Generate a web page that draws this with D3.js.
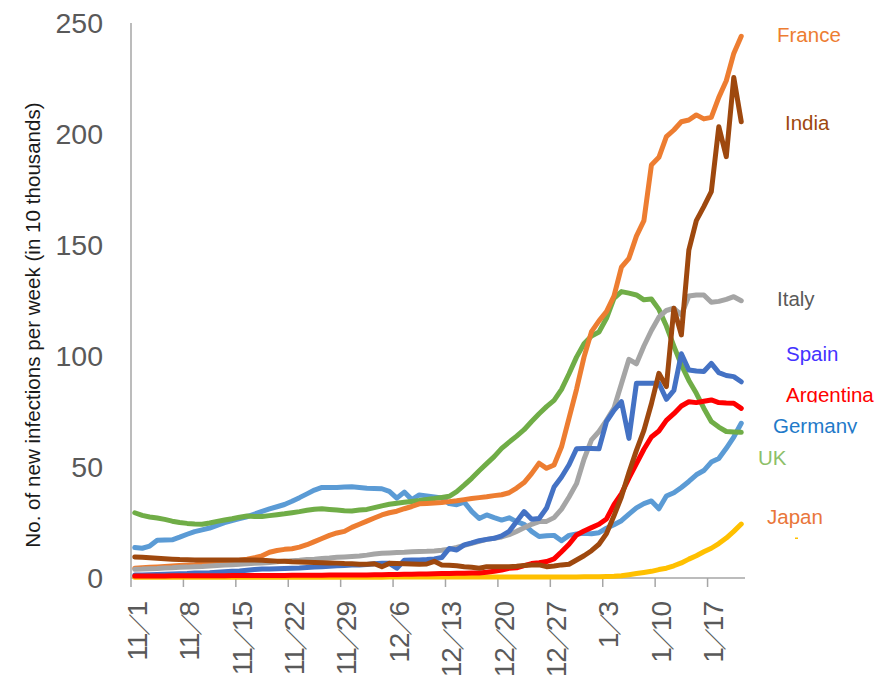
<!DOCTYPE html>
<html>
<head>
<meta charset="utf-8">
<script src="https://cdn.jsdelivr.net/npm/d3@7/dist/d3.min.js"></script>
<style>
  html, body { margin: 0; padding: 0; background: #fff; }
  svg { display: block; }
</style>
</head>
<body>
<svg id="chart" width="886" height="676"></svg>
<script>
// Daily categories: 11/1 through 1/21
const startDate = new Date(2020, 10, 1);
const endDate = new Date(2021, 0, 22);
const categories = d3.timeDay.range(startDate, endDate).map(d => (d.getMonth() + 1) + "/" + d.getDate());

const xTickLabels = ["11/1", "11/8", "11/15", "11/22", "11/29", "12/6", "12/13", "12/20", "12/27", "1/3", "1/10", "1/17"];
const yTicks = [0, 50, 100, 150, 200, 250];

// New infections per week, in units of 10,000
const france = [4.4,4.6,4.8,5.0,5.2,5.4,5.6,5.8,6.0,6.3,6.6,6.9,7.2,7.6,8.0,8.5,9.1,10.0,11.6,12.4,12.9,13.2,13.9,15.0,16.4,17.8,19.2,20.3,21.0,22.8,24.2,25.6,27.0,28.4,29.4,30.1,31.2,32.2,33.4,33.6,33.8,34.0,34.4,34.8,35.3,35.8,36.2,36.6,37.1,37.5,38.4,40.5,43.0,47.0,51.7,49.4,50.9,59.1,72,85,99.5,111,115.8,120,127,140,144,154,161,186,189.5,198.8,201.8,205.5,206.3,208.6,206.8,207.5,216.5,224,236.3,244];
const india = [9.5,9.3,9.1,8.9,8.7,8.5,8.3,8.2,8.1,8.1,8.1,8.1,8.1,8.1,8.1,8.1,8.1,8.0,7.8,7.6,7.5,7.3,7.2,7.1,7.0,6.9,6.8,6.7,6.5,6.4,6.2,6.2,6.4,5.1,6.6,6.5,6.4,6.3,6.2,6.3,7.5,5.9,5.7,5.5,5.1,4.8,4.4,5.1,5.1,5.1,5.1,5.3,5.6,5.9,5.9,5.1,5.4,5.9,6.2,8.1,10.0,12.3,15.2,20.0,28.0,36.6,47.5,57.5,66.5,78.5,92.2,86.2,121.5,109.5,147.7,161,167.3,174,203.3,189.8,225.5,205.5];
const italy = [3.9,4.0,4.2,4.3,4.5,4.6,4.8,4.9,5.1,5.2,5.4,5.6,5.8,6.0,6.2,6.4,6.6,6.8,7.0,7.3,7.6,7.8,8.0,8.3,8.5,8.8,9.0,9.3,9.5,9.7,9.9,10.3,10.8,11.1,11.3,11.5,11.6,11.8,11.9,12.0,12.2,12.5,13.0,13.8,14.7,15.6,16.5,17.4,17.9,18.5,19.5,21.0,22.6,24.2,25.4,25.5,27.2,31.0,36.5,42.5,53.5,62.2,66.0,71.0,76.5,87.5,98.5,96.5,104.5,111.5,117.5,120.5,121.5,118.5,127.0,127.5,127.5,124.2,124.6,125.5,126.7,124.9];
const spain = [1.3,1.4,1.5,1.6,1.7,1.8,1.9,2.0,2.2,2.3,2.4,2.6,2.8,3.0,3.2,3.5,3.8,4.0,4.1,4.2,4.3,4.4,4.5,4.7,4.9,5.1,5.3,5.5,5.6,5.8,5.9,6.1,6.4,6.6,6.6,4.4,8.0,8.1,8.1,8.3,8.6,9.2,13.3,12.6,14.9,15.8,16.8,17.4,17.9,19.0,21.0,25.5,29.9,26.5,26.8,31.5,41.0,45.5,51.0,58.2,58.3,58.3,58.2,70.5,75.5,79.4,62.9,87.7,87.7,87.7,87.7,80.5,84.5,101,93.7,93.2,93.0,96.7,92.5,91.2,90.7,88.4];
const argentina = [0.9,0.9,0.9,0.9,0.9,1.0,1.0,1.0,1.0,1.0,1.0,1.0,1.0,1.1,1.1,1.1,1.1,1.1,1.1,1.1,1.1,1.2,1.2,1.2,1.2,1.2,1.3,1.3,1.3,1.3,1.4,1.4,1.5,1.5,1.6,1.6,1.7,1.7,1.8,1.8,1.9,2.0,2.0,2.1,2.1,2.2,2.3,2.6,3.0,3.6,4.4,4.6,5.6,6.5,6.9,7.4,8.6,11.8,15.2,19.4,21.2,22.7,24.2,26.6,33.0,38.0,45.0,51.5,58.0,63.5,66.2,71.0,74.0,77.5,79.4,79.0,79.6,80.2,79.0,78.8,78.7,76.4];
const germany = [13.7,13.4,14.4,17.0,17.1,17.2,18.4,19.7,20.9,21.7,22.5,23.7,24.9,25.9,26.8,27.6,28.8,30.0,31.1,32.1,33.1,34.6,36.2,37.9,39.6,40.8,40.8,40.8,41.0,41.1,40.8,40.4,40.3,40.2,39.0,36.0,38.7,35.3,37.4,37.0,36.5,36.0,33.5,33.0,34.2,30.0,26.8,28.4,27.2,26.1,27.1,25.4,24.2,21.0,18.7,19.0,19.2,16.8,19.2,19.8,20.1,19.9,20.4,22.4,24.0,25.8,28.8,31.6,33.5,34.7,31.2,36.9,38.4,40.8,43.5,46.5,48.4,52.2,53.8,58.4,63.5,69.7];
const uk = [29.4,28.2,27.5,27.0,26.4,25.6,25.0,24.6,24.3,24.2,24.8,25.5,26.1,26.7,27.4,27.9,27.7,27.7,28.1,28.5,28.9,29.4,29.9,30.5,31.0,31.2,30.9,30.6,30.3,30.2,30.6,30.9,31.7,32.5,33.2,33.7,34.1,34.5,34.9,35.4,35.8,36.3,36.8,38.9,41.8,44.9,48.3,51.5,54.7,58.4,61.2,63.9,66.8,70.5,74.0,77.2,80.0,85.0,92.0,99.5,105.5,109.0,110.8,117.0,126.0,129.0,128.3,127.5,125.3,125.7,121.0,113.5,104.5,96.0,89.0,83.2,76.5,70.5,68.0,66.0,65.8,65.6];
const japan = [0.3,0.3,0.3,0.3,0.3,0.3,0.3,0.3,0.3,0.3,0.3,0.3,0.3,0.3,0.3,0.3,0.3,0.3,0.3,0.3,0.3,0.3,0.3,0.3,0.3,0.3,0.3,0.3,0.3,0.3,0.3,0.3,0.3,0.3,0.4,0.4,0.4,0.4,0.4,0.4,0.4,0.5,0.5,0.5,0.5,0.5,0.5,0.5,0.5,0.5,0.5,0.5,0.5,0.5,0.5,0.5,0.5,0.5,0.5,0.5,0.6,0.6,0.6,0.7,0.8,1.0,1.5,2.0,2.5,3.0,3.8,4.4,5.5,6.8,8.5,10.0,11.8,13.4,15.5,18.0,21.0,24.3];

const seriesNames = ["Japan", "Germany", "UK", "France", "Italy", "Spain", "Argentina", "India"];
const seriesValues = [japan, germany, uk, france, italy, spain, argentina, india];
const lineColors = {
  France: "#ED7D31", India: "#9E480E", Italy: "#A5A5A5", Spain: "#4472C4",
  Argentina: "#FF0000", Germany: "#5B9BD5", UK: "#70AD47", Japan: "#FFC000"
};

// End-of-line labels
const labelNames = ["France", "India", "Italy", "Spain", "Argentina", "Germany", "UK", "Japan"];
const labelColors = ["#ED7D31", "#9E480E", "#595959", "#4433FF", "#FF0000", "#1F7AC9", "#8DBF69", "#E9763A"];

const svg = d3.select("#chart");
const x = d3.scalePoint().domain(categories).range([131, 745]).padding(0.5);
const step = x.step();
const y = d3.scaleLinear().domain([0, 250]).range([578, 23]);

// Axes
svg.append("line")
  .attr("x1", 131).attr("x2", 131).attr("y1", y(250)).attr("y2", y(0))
  .attr("stroke", "#A6A6A6").attr("stroke-width", 1.5);
svg.append("line")
  .attr("x1", 131).attr("x2", 745).attr("y1", y(0)).attr("y2", y(0))
  .attr("stroke", "#A6A6A6").attr("stroke-width", 1.5);

const tickX = lab => x(lab) - step / 2;
svg.append("g").selectAll("line").data(xTickLabels).join("line")
  .attr("x1", tickX).attr("x2", tickX)
  .attr("y1", y(0)).attr("y2", y(0) + 9)
  .attr("stroke", "#A6A6A6").attr("stroke-width", 1.5);

// Rotated date labels: month, a wide slash, day
const xLabels = svg.append("g").selectAll("text").data(xTickLabels).join("text")
  .attr("transform", d => `translate(${x(d) + 12},602) rotate(-90)`)
  .attr("text-anchor", "end")
  .attr("font-family", "'Liberation Sans', Arial, sans-serif")
  .attr("font-size", 28)
  .attr("letter-spacing", -1)
  .attr("fill", "#595959");
xLabels.append("tspan").text(d => d.split("/")[0]);
xLabels.append("tspan").attr("dx", -2)
  .attr("font-family", "'Noto Sans CJK JP', sans-serif")
  .attr("font-weight", 600)
  .attr("font-size", 22).text("／");
xLabels.append("tspan").attr("dx", -2).text(d => d.split("/")[1]);

svg.append("g").selectAll("text").data(yTicks).join("text")
  .attr("x", 103).attr("y", d => y(d) + 10)
  .attr("text-anchor", "end")
  .attr("font-family", "'Liberation Sans', Arial, sans-serif")
  .attr("font-size", 28.5)
  .attr("fill", "#595959")
  .text(d => d);

svg.append("text")
  .attr("transform", "translate(40,325) rotate(-90)")
  .attr("text-anchor", "middle")
  .attr("font-family", "'Liberation Sans', Arial, sans-serif")
  .attr("font-size", 20.6)
  .attr("fill", "#1a1a1a")
  .text("No. of new infections per week (in 10 thousands)");

// Series lines
const line = d3.line()
  .x((v, i) => x(categories[i]))
  .y(v => y(v));

svg.append("g").selectAll("path").data(seriesNames).join("path")
  .attr("d", (n, i) => line(seriesValues[i]))
  .attr("fill", "none")
  .attr("stroke", n => lineColors[n])
  .attr("stroke-width", 5)
  .attr("stroke-linejoin", "round")
  .attr("stroke-linecap", "round");

// Labels (two of them sit in boxes that clip their descenders)
const labelPos = {
  France: [777, 42, null], India: [785, 130, null], Italy: [777, 306, null],
  Spain: [786, 361, null], Argentina: [786, 402, 402.5], Germany: [773, 433, 433.5],
  UK: [758, 465, null], Japan: [767, 524, null]
};
const defs = svg.append("defs");
labelNames.forEach((n, i) => {
  const [lx, ly, clipBottom] = labelPos[n];
  const t = svg.append("text")
    .attr("x", lx).attr("y", ly)
    .attr("font-family", "'Liberation Sans', Arial, sans-serif")
    .attr("font-size", 20.5)
    .attr("fill", labelColors[i])
    .text(n);
  if (clipBottom !== null) {
    defs.append("clipPath").attr("id", "clip-" + n)
      .append("rect").attr("x", lx - 5).attr("y", ly - 30)
      .attr("width", 120).attr("height", clipBottom - (ly - 30));
    t.attr("clip-path", `url(#clip-${n})`);
  }
});

// small yellow fragment beneath the Japan label
svg.append("rect").attr("x", 795).attr("y", 537.5).attr("width", 3).attr("height", 1.5)
  .attr("fill", "#FFC000");
</script>
</body>
</html>
